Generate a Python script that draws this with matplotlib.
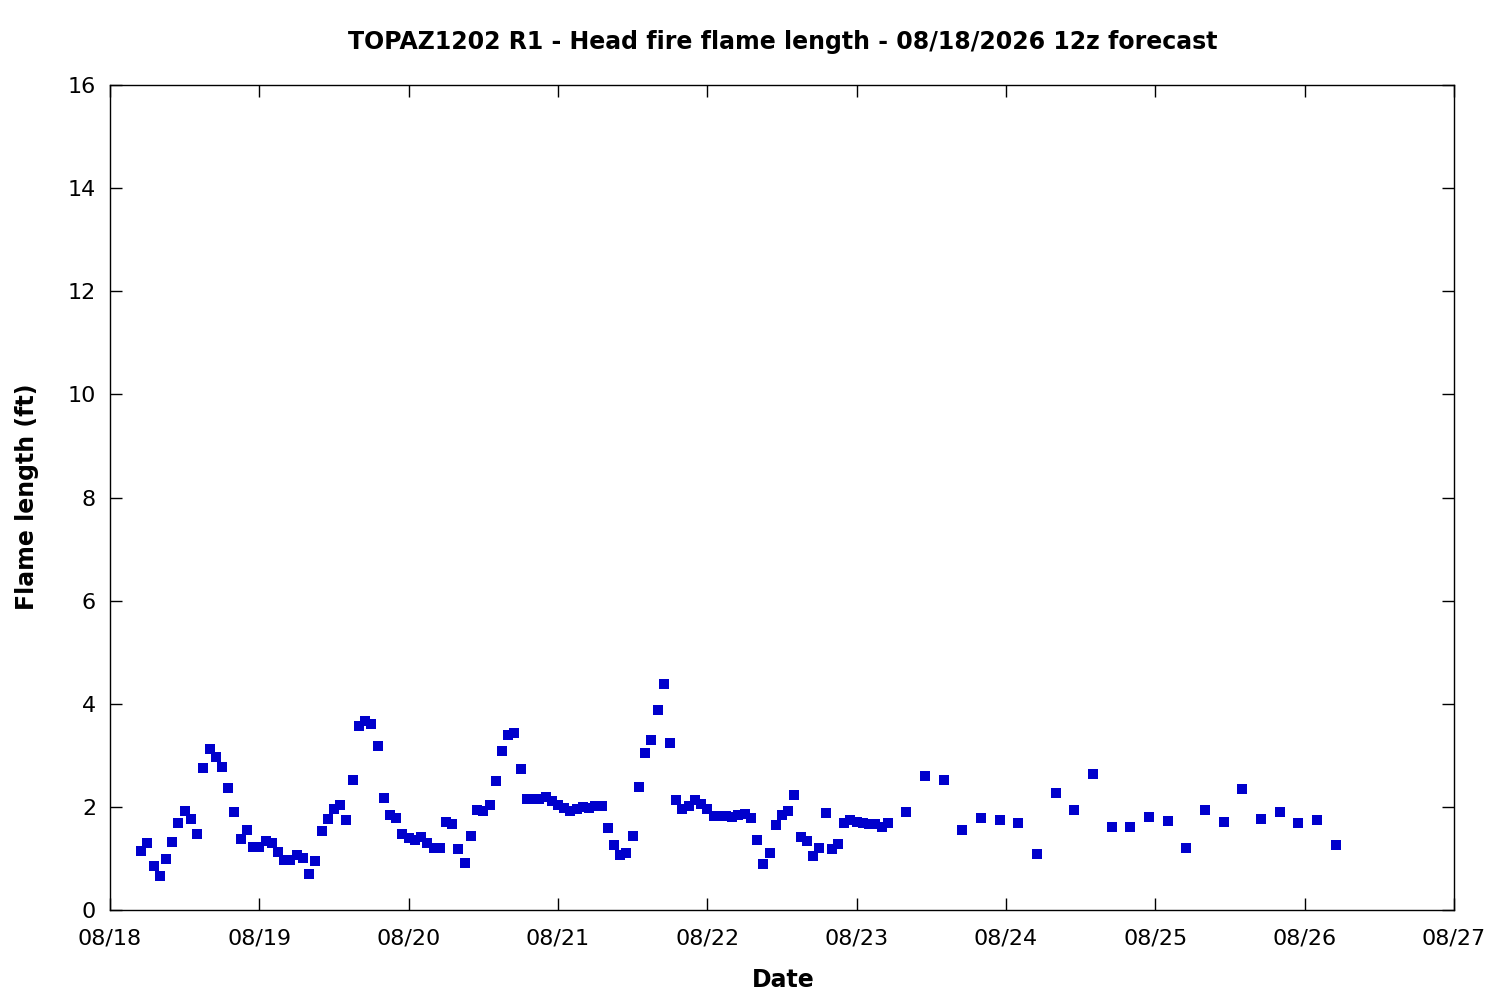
import matplotlib
matplotlib.use('Agg')
import matplotlib.pyplot as plt
import matplotlib.dates as mdates
import numpy as np
import pandas as pd

# hourly forecast values (ft), starting 08/18 05:00
hourly_start = '2026-08-18 05:00'
hourly_flame = [
    1.14, 1.30, 0.85, 0.66, 0.99, 1.32, 1.69, 1.92, 1.76, 1.47,
    2.75, 3.12, 2.97, 2.77, 2.37, 1.90, 1.38, 1.55, 1.22, 1.22,
    1.34, 1.30, 1.12, 0.97, 0.97, 1.07, 1.01, 0.70, 0.95, 1.53,
    1.76, 1.96, 2.04, 1.75, 2.52, 3.57, 3.67, 3.61, 3.18, 2.17,
    1.84, 1.78, 1.47, 1.40, 1.36, 1.42, 1.30, 1.20, 1.20, 1.71,
    1.67, 1.18, 0.91, 1.44, 1.94, 1.92, 2.04, 2.50, 3.08, 3.39,
    3.43, 2.73, 2.15, 2.15, 2.15, 2.19, 2.11, 2.04, 1.98, 1.92,
    1.96, 2.00, 1.98, 2.02, 2.02, 1.59, 1.26, 1.07, 1.11, 1.44,
    2.39, 3.05, 3.30, 3.88, 4.38, 3.24, 2.13, 1.96, 2.02, 2.13,
    2.06, 1.96, 1.82, 1.82, 1.82, 1.80, 1.84, 1.86, 1.78, 1.36,
    0.89, 1.11, 1.65, 1.84, 1.92, 2.23, 1.42, 1.34, 1.05, 1.20,
    1.88, 1.18, 1.28, 1.69, 1.75, 1.71, 1.69, 1.67, 1.67, 1.61,
    1.69,
]

# 3-hourly values after that
three_hourly_start = '2026-08-23 08:00'
three_hourly_flame = [
    1.90, 2.60, 2.52, 1.55, 1.78, 1.75, 1.69, 1.09, 2.27, 1.94,
    2.64, 1.61, 1.61, 1.80, 1.73, 1.20, 1.94, 1.71, 2.35, 1.76,
    1.90, 1.69, 1.75, 1.26,
]

title = 'TOPAZ1202 R1 - Head fire flame length - 08/18/2026 12z forecast'

times = list(pd.date_range(hourly_start, periods=len(hourly_flame), freq='h')) + \
        list(pd.date_range(three_hourly_start, periods=len(three_hourly_flame), freq='3h'))
values = hourly_flame + three_hourly_flame

plt.rcParams['font.family'] = ['DejaVu Sans']

fig = plt.figure(figsize=(15, 10), dpi=100)
ax = fig.add_axes([110 / 1500, 0.09, 1344 / 1500, 0.825])

ax.plot(times, values, linestyle='none', marker='s', markersize=7.5,
        color='#0000cc', markeredgewidth=0)

ax.set_xlim(pd.Timestamp('2026-08-18'), pd.Timestamp('2026-08-27'))
ax.set_ylim(0, 16)
ax.set_yticks(np.arange(0, 17, 2))
ax.xaxis.set_major_locator(mdates.DayLocator())
ax.xaxis.set_major_formatter(mdates.DateFormatter('%m/%d'))

ax.tick_params(direction='in', length=8.5, width=1, labelsize=16,
               top=True, right=True)
ax.tick_params(axis='x', pad=13)
ax.tick_params(axis='y', pad=10)
for s in ax.spines.values():
    s.set_linewidth(1)

fig.text(783 / 1500, 1 - 42 / 1000, title, ha='center', va='center',
         fontsize=17, fontweight='bold')
fig.text(783 / 1500, 1 - 980 / 1000, 'Date', ha='center', va='center',
         fontsize=17, fontweight='bold')
fig.text(27 / 1500, 1 - 497 / 1000, 'Flame length (ft)', ha='center', va='center',
         rotation=90, fontsize=17, fontweight='bold')

fig.savefig('out.png', dpi=100)
